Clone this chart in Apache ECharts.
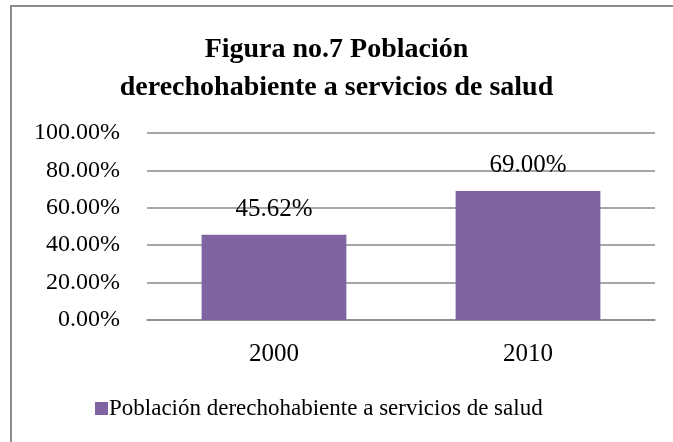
<!DOCTYPE html>
<html>
<head>
<meta charset="utf-8">
<script src="https://cdn.jsdelivr.net/npm/echarts@6/dist/echarts.min.js"></script>
<style>
	html, body { margin: 0; padding: 0; background: #fff; }
	#main { width: 673px; height: 442px; }
</style>
</head>
<body>
<div id="main"></div>
<script>
	// data
	const years = ['2000', '2010'];
	const seriesName = 'Población derechohabiente a servicios de salud';
	const values = [0.4562, 0.69];
	const titleText = 'Figura no.7 Población\nderechohabiente a servicios de salud';

	const font = '"Liberation Serif", "Times New Roman", serif';
	const pct = (v) => (v * 100).toFixed(2) + '%';

	const myChart = echarts.init(document.getElementById('main'));

	const option = {
		backgroundColor: '#fff',
		animation: false,
		title: {
			left: 'center',
			top: 26,
			text: titleText,
			textStyle: {
				fontFamily: font,
				fontWeight: 'bold',
				fontSize: 28,
				lineHeight: 38,
				color: '#000'
			}
		},
		legend: {
			left: 90,
			top: 392,
			itemWidth: 13,
			itemHeight: 13,
			icon: 'rect',
			textStyle: { fontFamily: font, fontSize: 23, color: '#000', padding: [0, 0, 0, -4] },
			data: [seriesName]
		},
		grid: { left: 147, right: 18, top: 133, bottom: 122 },
		xAxis: {
			type: 'category',
			data: years,
			axisLine: { lineStyle: { color: '#888', width: 1.5 } },
			axisTick: { show: false },
			axisLabel: { fontFamily: font, fontSize: 25, color: '#000', margin: 22 }
		},
		yAxis: {
			type: 'value',
			min: 0,
			max: 1,
			interval: 0.2,
			axisLine: { show: false },
			axisTick: { show: false },
			splitLine: { lineStyle: { color: '#888', width: 1.5 } },
			axisLabel: {
				fontFamily: font,
				fontSize: 24,
				color: '#000',
				margin: 27,
				formatter: pct
			}
		},
		graphic: [
			{
				type: 'rect',
				shape: { x: 11, y: 6, width: 700, height: 500 },
				style: { fill: 'none', stroke: '#8c8c8c', lineWidth: 2 },
				silent: true
			}
		],
		series: [
			{
				name: seriesName,
				type: 'bar',
				data: values,
				barWidth: '57%',
				itemStyle: { color: '#8064A2' },
				label: {
					show: true,
					position: 'top',
					distance: 13,
					fontFamily: font,
					fontSize: 25,
					color: '#000',
					formatter: (p) => pct(p.value)
				}
			}
		]
	};

	myChart.setOption(option);
</script>
</body>
</html>
